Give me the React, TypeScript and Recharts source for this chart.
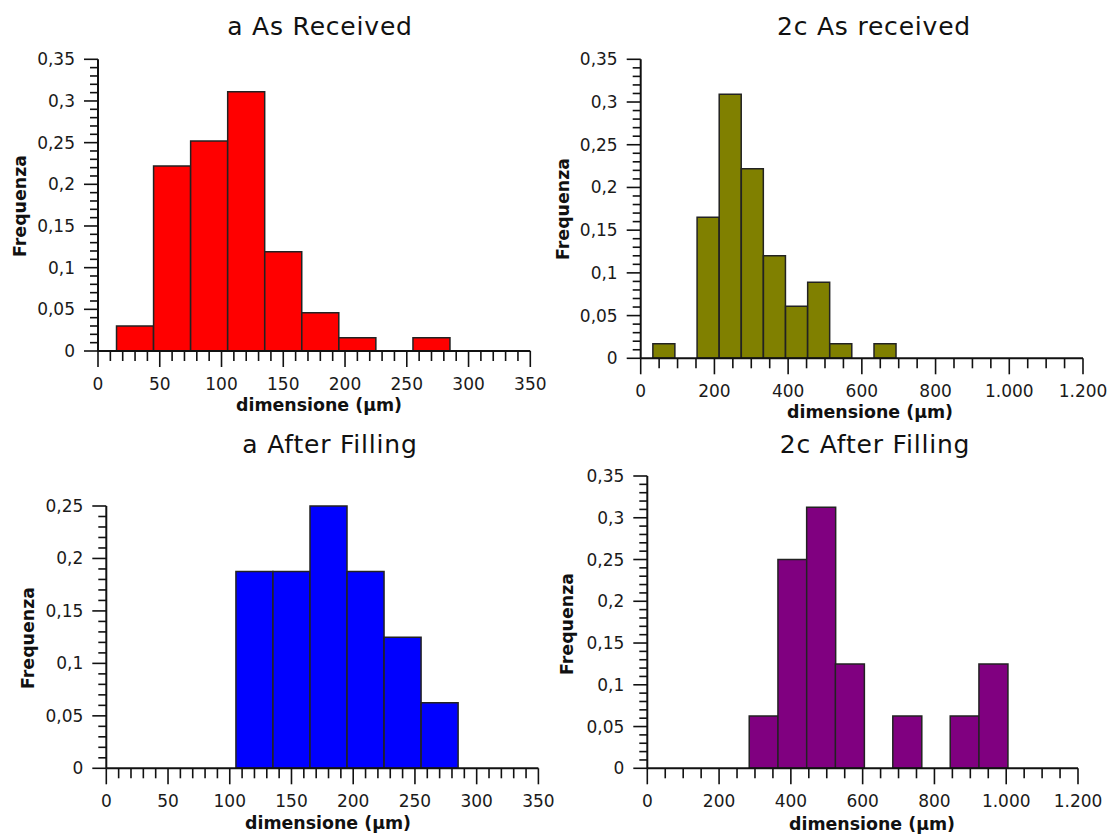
import React from 'react';
import { BarChart, Bar, XAxis, YAxis } from 'recharts';

// ---------- data ----------
const aReceivedBins = [0, 30, 60, 90, 120, 150, 180, 210, 240, 270, 300];
const aReceivedFreq = [0, 0.03, 0.222, 0.252, 0.311, 0.119, 0.046, 0.016, 0, 0.016, 0];

const c2ReceivedBins = [3, 63, 123, 183, 243, 303, 363, 423, 483, 543, 603, 663, 723, 783, 843, 903];
const c2ReceivedFreq = [0, 0.017, 0, 0.165, 0.309, 0.222, 0.12, 0.061, 0.089, 0.017, 0, 0.017, 0, 0, 0, 0];

const aFillingBins = [0, 30, 60, 90, 120, 150, 180, 210, 240, 270, 300];
const aFillingFreq = [0, 0, 0, 0, 0.1875, 0.1875, 0.25, 0.1875, 0.125, 0.0625, 0];

const c2FillingBins = [4, 84, 164, 244, 324, 404, 484, 564, 644, 724, 804, 884, 964, 1044];
const c2FillingFreq = [0, 0, 0, 0, 0.0625, 0.25, 0.3125, 0.125, 0, 0.0625, 0, 0.0625, 0.125, 0];

const yMajor35 = [0, 0.05, 0.1, 0.15, 0.2, 0.25, 0.3, 0.35];
const yMajor25 = [0, 0.05, 0.1, 0.15, 0.2, 0.25];
const xMajor350 = [0, 50, 100, 150, 200, 250, 300, 350];
const xMajor1200 = [0, 200, 400, 600, 800, 1000, 1200];

const titles = ['a As Received', '2c As received', 'a After Filling', '2c After Filling'];
const xLabel = 'dimensione (\u00b5m)';
const yLabel = 'Frequenza';

// ---------- helpers ----------
const FONT = '"DejaVu Sans", Verdana, sans-serif';
const INK = '#111';
const YW = 60; // y axis band width
const XH = 40; // x axis band height

const toData = (xs: number[], ys: number[]) => xs.map((x, i) => ({ x, y: ys[i] }));

const steps = (max: number, step: number) => {
  const out: number[] = [];
  const n = Math.round(max / step);
  for (let i = 0; i <= n; i++) out.push(Number((i * step).toFixed(4)));
  return out;
};

const isIn = (v: number, arr: number[]) => arr.some((a) => Math.abs(a - v) < 1e-6);

const fmtY = (v: number) => String(v).replace('.', ',');
const fmtX = (v: number) =>
  v >= 1000 ? `${Math.floor(v / 1000)}.${String(v % 1000).padStart(3, '0')}` : String(v);

const makeXTick = (major: number[]) => (props: any) => {
  const { x, y, payload } = props;
  const m = isIn(payload.value, major);
  return (
    <g>
      <line x1={x} y1={y} x2={x} y2={y + (m ? 16 : 10)} stroke={INK} strokeWidth={1.6} />
      {m && (
        <text x={x} y={y + 39} textAnchor="middle" fontFamily={FONT} fontSize={17} fill="#1a1a1a">
          {fmtX(payload.value)}
        </text>
      )}
    </g>
  );
};

const makeYTick = (major: number[]) => (props: any) => {
  const { x, y, payload } = props;
  const m = isIn(payload.value, major);
  return (
    <g>
      <line x1={x} y1={y} x2={x - (m ? 14 : 8)} y2={y} stroke={INK} strokeWidth={1.6} />
      {m && (
        <text x={x - 23} y={y + 6} textAnchor="end" fontFamily={FONT} fontSize={17} fill="#1a1a1a">
          {fmtY(payload.value)}
        </text>
      )}
    </g>
  );
};

type PanelProps = {
  left: number;
  top: number;
  margin: { left: number; right: number; top: number; bottom: number };
  data: { x: number; y: number }[];
  color: string;
  xMax: number;
  xMinor: number;
  xMajor: number[];
  yMax: number;
  yMajor: number[];
};

const Panel = (p: PanelProps) => (
  <div style={{ position: 'absolute', left: p.left, top: p.top, width: 555, height: 418 }}>
    <BarChart
      width={555}
      height={418}
      data={p.data}
      margin={{
        left: p.margin.left - YW,
        right: p.margin.right,
        top: p.margin.top,
        bottom: p.margin.bottom - XH,
      }}
      barCategoryGap={0}
      barGap={0}
    >
      <XAxis
        type="number"
        dataKey="x"
        domain={[0, p.xMax]}
        ticks={steps(p.xMax, p.xMinor)}
        interval={0}
        height={XH}
        tickSize={0}
        tickMargin={0}
        tickLine={false}
        axisLine={{ stroke: INK, strokeWidth: 2 }}
        tick={makeXTick(p.xMajor)}
      />
      <YAxis
        type="number"
        domain={[0, p.yMax]}
        ticks={steps(p.yMax, 0.01)}
        interval={0}
        width={YW}
        tickSize={0}
        tickMargin={0}
        tickLine={false}
        axisLine={{ stroke: INK, strokeWidth: 2 }}
        tick={makeYTick(p.yMajor)}
      />
      <Bar dataKey="y" fill={p.color} stroke="#222" strokeWidth={1.5} isAnimationActive={false} />
    </BarChart>
  </div>
);

export default function App() {
  const textBold = { fontFamily: FONT, fontSize: 17.4, fontWeight: 700, fill: '#111' } as const;
  const titleStyle = { fontFamily: FONT, fontSize: 25, letterSpacing: 0.8, fill: '#111' } as const;
  const titlePos = [
    [320, 35],
    [874, 35],
    [330, 453],
    [875, 453],
  ];
  const xLabPos = [
    [319, 411],
    [870, 418],
    [328, 829],
    [872, 830],
  ];
  const yLabPos = [
    [20, 206],
    [563, 209],
    [28, 638],
    [567, 624],
  ];
  return (
    <div
      style={{
        position: 'absolute',
        left: 0,
        top: 0,
        width: 1110,
        height: 836,
        background: '#fff',
        overflow: 'hidden',
      }}
    >
      <Panel
        left={0}
        top={0}
        margin={{ left: 98, right: 24.7, top: 59.3, bottom: 67 }}
        data={toData(aReceivedBins, aReceivedFreq)}
        color="#ff0000"
        xMax={350}
        xMinor={10}
        xMajor={xMajor350}
        yMax={0.35}
        yMajor={yMajor35}
      />
      <Panel
        left={555}
        top={0}
        margin={{ left: 85.7, right: 27, top: 59.3, bottom: 59.7 }}
        data={toData(c2ReceivedBins, c2ReceivedFreq)}
        color="#808000"
        xMax={1200}
        xMinor={50}
        xMajor={xMajor1200}
        yMax={0.35}
        yMajor={yMajor35}
      />
      <Panel
        left={0}
        top={418}
        margin={{ left: 106.3, right: 16.6, top: 88, bottom: 67.7 }}
        data={toData(aFillingBins, aFillingFreq)}
        color="#0000ff"
        xMax={350}
        xMinor={10}
        xMajor={xMajor350}
        yMax={0.25}
        yMajor={yMajor25}
      />
      <Panel
        left={555}
        top={418}
        margin={{ left: 92.3, right: 32, top: 58, bottom: 67.7 }}
        data={toData(c2FillingBins, c2FillingFreq)}
        color="#800080"
        xMax={1200}
        xMinor={50}
        xMajor={xMajor1200}
        yMax={0.35}
        yMajor={yMajor35}
      />
      <svg
        width={1110}
        height={836}
        style={{ position: 'absolute', left: 0, top: 0, pointerEvents: 'none' }}
      >
        {titles.map((t, i) => (
          <text key={'t' + i} x={titlePos[i][0]} y={titlePos[i][1]} textAnchor="middle" {...titleStyle}>
            {t}
          </text>
        ))}
        {xLabPos.map((pos, i) => (
          <text key={'x' + i} x={pos[0]} y={pos[1]} textAnchor="middle" {...textBold}>
            {xLabel}
          </text>
        ))}
        {yLabPos.map((pos, i) => (
          <text
            key={'y' + i}
            x={pos[0]}
            y={pos[1]}
            textAnchor="middle"
            dominantBaseline="central"
            transform={`rotate(-90 ${pos[0]} ${pos[1]})`}
            {...textBold}
          >
            {yLabel}
          </text>
        ))}
      </svg>
    </div>
  );
}
